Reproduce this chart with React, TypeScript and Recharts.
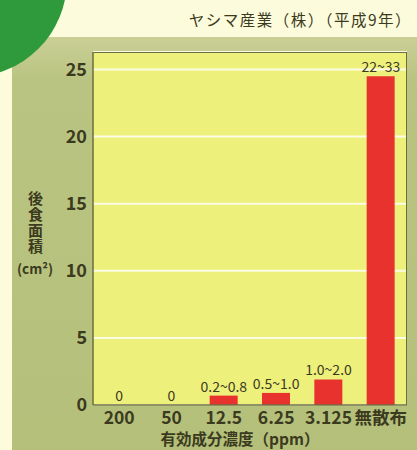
import { Bar, CartesianGrid, ComposedChart, LabelList, Line, XAxis, YAxis } from "recharts"

// 有効成分濃度ごとの後食面積 (ヤシマ産業 平成9年)
const categories = ["200", "50", "12.5", "6.25", "3.125", "無散布"]
const damageArea = [0, 0, 0.7, 0.9, 1.9, 24.5]
const rangeLabels = ["0", "0", "0.2~0.8", "0.5~1.0", "1.0~2.0", "22~33"]
const yTicks = [0, 5, 10, 15, 20, 25]

const data = categories.map((name, i) => ({
  name,
  area: damageArea[i],
  label: rangeLabels[i],
}))

const font = "'Noto Sans CJK JP', 'Noto Sans', sans-serif"
const ink = "#3b3a1e"

export default function App() {
  return (
    <div
      style={{
        position: "absolute",
        left: 0,
        top: 0,
        width: 417,
        height: 450,
        background: "#fcfcdc",
        overflow: "hidden",
        fontFamily: font,
      }}
    >
      <div
        style={{
          position: "absolute",
          left: 12,
          top: 37,
          width: 405,
          height: 413,
          background: "linear-gradient(#cacf96, #bac482 10%, #b4c07a)",
        }}
      />
      <svg
        width={100}
        height={100}
        style={{ position: "absolute", left: 0, top: 0 }}
      >
        <circle cx={-30} cy={-20} r={97} fill="#2f9a3c" />
      </svg>
      <div
        style={{
          position: "absolute",
          right: 5,
          top: 8,
          fontSize: 15.5,
          letterSpacing: 1.5,
          color: ink,
          whiteSpace: "nowrap",
        }}
      >
        ヤシマ産業（株）（平成9年）
      </div>
      <ComposedChart
        width={417}
        height={450}
        data={data}
        margin={{ top: 52, right: 10, bottom: 15, left: 33 }}
        style={{ position: "absolute", left: 0, top: 0 }}
      >
        <CartesianGrid
          vertical={false}
          stroke="#fbfbe6"
          strokeWidth={2}
          fill="#eef07c"
          fillOpacity={1}
        />
        <XAxis
          dataKey="name"
          tickLine={false}
          axisLine={{ stroke: "#6e6e3c", strokeWidth: 1.5 }}
          tick={{ fill: ink, fontSize: 17.5, fontWeight: 600, fontFamily: font }}
          interval={0}
          tickMargin={1}
          height={30}
        />
        <YAxis
          domain={[0, 26.3]}
          ticks={yTicks}
          tickLine={false}
          tickMargin={0}
          axisLine={{ stroke: "#6e6e3c", strokeWidth: 1.5 }}
          tick={{ fill: ink, fontSize: 18, fontWeight: 600, fontFamily: font }}
          width={60}
        />
        <Bar dataKey="area" fill="#e8322e" barSize={28} isAnimationActive={false} />
        <Line
          dataKey="area"
          stroke="none"
          dot={false}
          activeDot={false}
          isAnimationActive={false}
        >
          <LabelList
            dataKey="label"
            position="top"
            offset={4}
            style={{ fill: ink, fontSize: 14, fontFamily: font }}
          />
        </Line>
      </ComposedChart>
      <div
        style={{
          position: "absolute",
          left: 93,
          top: 52,
          width: 314,
          height: 353,
          boxSizing: "border-box",
          borderTop: "1.5px solid #6e6e3c",
          borderRight: "1.5px solid #6e6e3c",
          pointerEvents: "none",
        }}
      />
      <div
        style={{
          position: "absolute",
          left: 27,
          top: 191,
          fontSize: 15,
          fontWeight: 700,
          color: ink,
          writingMode: "vertical-rl",
          letterSpacing: 1,
          lineHeight: "16px",
        }}
      >
        後食面積
      </div>
      <div
        style={{
          position: "absolute",
          left: 17,
          top: 258,
          fontSize: 13.5,
          fontWeight: 600,
          color: ink,
          whiteSpace: "nowrap",
        }}
      >
        (cm²)
      </div>
      <div
        style={{
          position: "absolute",
          left: 80,
          width: 320,
          top: 429,
          textAlign: "center",
          fontSize: 15.5,
          lineHeight: "19px",
          fontWeight: 700,
          color: ink,
          whiteSpace: "nowrap",
        }}
      >
        有効成分濃度（ppm）
      </div>
    </div>
  )
}
